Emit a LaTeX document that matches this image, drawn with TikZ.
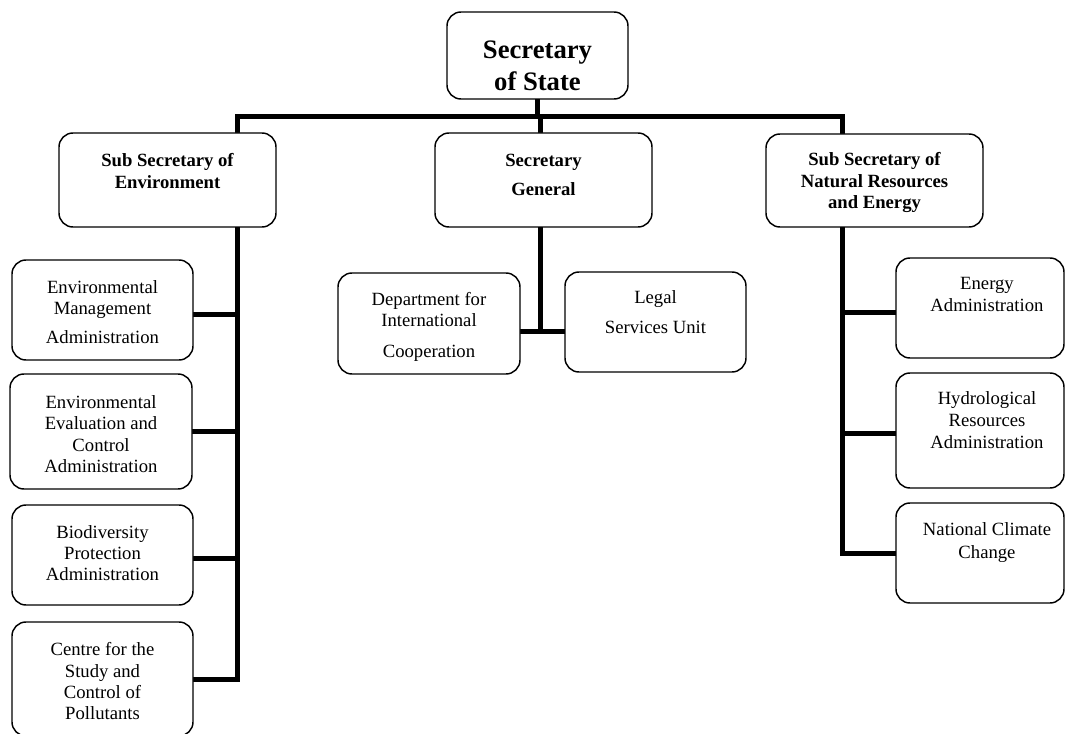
\documentclass[tikz,border=0pt]{standalone}
\usepackage{fontspec}
\setmainfont{Liberation Serif}
\usetikzlibrary{backgrounds}
\newdimen\pxu \pxu=0.75pt
% #1 width px, #2 height px, #3 first-line centre offset px, #4 font, #5 text
\newcommand\boxtxt[5]{\parbox[c][#2\pxu][t]{#1\pxu}{#4\centering\vspace*{\dimexpr #3\pxu-0.34em\relax}#5\par}}
\newcommand\fbig{\fontsize{20}{24}\selectfont\bfseries}
\newcommand\fbold[1]{\fontsize{14}{#1}\selectfont\bfseries}
\newcommand\freg[1]{\fontsize{14}{#1}\selectfont}
\newcommand\txtshiftright{\leftskip=14\pxu plus 1fil\relax}
\begin{document}
\begin{tikzpicture}[x=0.75pt,y=-0.75pt,
  box/.style={draw, line width=1.1pt, rounded corners=10.5pt, fill=white, inner sep=0pt},
  wire/.style={line width=3.75pt, line join=miter, line cap=rect}]
\useasboundingbox (0,0) rectangle (1065,734);
% top
\node[box] (top) at (537.5,55.5) {\boxtxt{181}{87}{38}{\fbig}{Secretary\\of State}};
% second level
\node[box] (subenv) at (167.5,180) {\boxtxt{217}{94}{27}{\fbold{16.5}}{Sub Secretary of\\Environment}};
\node[box] (secgen) at (543.5,180) {\boxtxt{217}{94}{27}{\fbold{21.75}}{Secretary\\General}};
\node[box] (subnat) at (874.5,180.5) {\boxtxt{217}{93}{25}{\fbold{16.1}}{Sub Secretary of\\Natural Resources\\and Energy}};
% left column
\node[box] (envman) at (102.5,310) {\boxtxt{181}{100}{27}{\freg{15.75}}{Environmental\\Management\\[6pt]Administration}};
\node[box] (enveval) at (101,431.5) {\boxtxt{182}{115}{28}{\freg{16}}{Environmental\\Evaluation and\\Control\\Administration}};
\node[box] (biodiv) at (102.5,555) {\boxtxt{181}{100}{27}{\freg{15.75}}{Biodiversity\\Protection\\Administration}};
\node[box] (centre) at (102.5,679) {\boxtxt{181}{114}{27}{\freg{16}}{Centre for the\\Study and\\Control of\\Pollutants}};
% middle
\node[box] (dept) at (429,323.5) {\boxtxt{182}{101}{26}{\freg{15.75}}{Department for\\International\\[7pt]Cooperation}};
\node[box] (legal) at (655.5,322) {\boxtxt{181}{100}{25}{\freg{22.5}}{Legal\\Services Unit}};
% right column
\node[box] (energy) at (980,308) {\boxtxt{168}{100}{26}{\freg{16.5}}{\txtshiftright Energy\\Administration}};
\node[box] (hydro) at (980,430.5) {\boxtxt{168}{115}{25}{\freg{16.5}}{\txtshiftright Hydrological\\Resources\\Administration}};
\node[box] (climate) at (980,553) {\boxtxt{168}{100}{26}{\freg{17}}{\txtshiftright National Climate\\Change}};
% connectors
\coordinate (lt) at (237,117);
\coordinate (rt) at (842,117);
\coordinate (sgj) at (540,332);
\begin{scope}[on background layer]
\draw[wire] (centre.east -| lt) -- (lt) -- (rt) -- (climate.west -| rt);
\draw[wire] (top.south) -- (top.south |- lt);
\draw[wire] (secgen.north -| sgj) -- (lt -| sgj);
\draw[wire] (secgen.south -| sgj) -- (sgj);
\draw[wire] (dept.east |- sgj) -- (legal.west |- sgj);
\draw[wire] ([yshift=-3.75pt]envman.east) -- ([yshift=-3.75pt]envman.east -| lt);
\draw[wire] (enveval.east) -- (enveval.east -| lt);
\draw[wire] ([yshift=-2.25pt]biodiv.east) -- ([yshift=-2.25pt]biodiv.east -| lt);
\draw[wire] (centre.east) -- (centre.east -| lt);
\draw[wire] ([yshift=-3.75pt]energy.west) -- ([yshift=-3.75pt]energy.west -| rt);
\draw[wire] ([yshift=-2pt]hydro.west) -- ([yshift=-2pt]hydro.west -| rt);
\draw[wire] (climate.west) -- (climate.west -| rt);
\end{scope}
\end{tikzpicture}
\end{document}
